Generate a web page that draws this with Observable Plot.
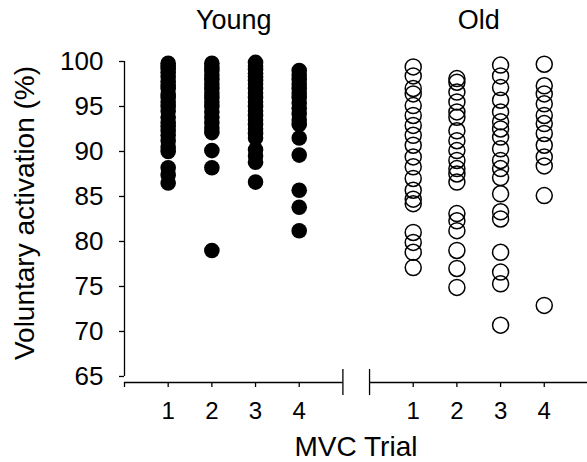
<!DOCTYPE html>
<html>
<head>
<meta charset="utf-8">
<script src="https://cdn.jsdelivr.net/npm/d3@7"></script>
<script src="https://cdn.jsdelivr.net/npm/@observablehq/plot@0.6"></script>
<style>
  html, body { margin: 0; padding: 0; background: #fff; }
</style>
</head>
<body>
<div id="chart"></div>
<script>
// ---- data ----
const groups = ["Young", "Old"];
const trials = [1, 2, 3, 4];
const trialLabels = ["1", "2", "3", "4"];
const yTicks = [65, 70, 75, 80, 85, 90, 95, 100];
const xTitle = "MVC Trial";
const yTitle = "Voluntary activation (%)";

const youngTrial1 = [99.8, 99.5, 99.2, 98.8, 98.3, 97.8, 97.4, 97.0, 96.4, 96.0, 95.5, 95.0, 94.5, 93.8, 93.2, 92.8, 92.3, 91.8, 91.2, 90.5, 90.0, 88.2, 87.4, 86.5];
const youngTrial2 = [99.8, 99.4, 99.0, 98.5, 98.0, 97.5, 97.0, 96.5, 96.0, 95.5, 95.0, 94.4, 93.8, 93.2, 92.6, 92.1, 90.1, 88.2, 79.0];
const youngTrial3 = [99.9, 99.5, 99.1, 98.7, 98.3, 97.9, 97.5, 97.0, 96.5, 96.0, 95.5, 95.0, 94.5, 94.0, 93.5, 93.0, 92.5, 92.0, 91.5, 90.2, 89.5, 88.8, 86.6];
const youngTrial4 = [99.0, 98.5, 98.0, 97.5, 97.0, 96.5, 96.0, 95.4, 94.8, 94.2, 93.5, 93.0, 91.5, 89.6, 85.7, 83.8, 81.2];

const oldTrial1 = [99.4, 98.4, 97.0, 96.4, 95.1, 94.0, 92.9, 91.8, 90.7, 89.4, 88.3, 87.0, 85.7, 84.7, 84.2, 81.0, 79.9, 78.8, 77.1];
const oldTrial2 = [98.1, 97.7, 96.6, 95.5, 94.4, 93.8, 92.3, 91.2, 90.1, 89.0, 88.1, 87.5, 86.6, 83.1, 82.3, 81.2, 79.0, 77.0, 74.9];
const oldTrial3 = [99.6, 98.4, 97.1, 95.7, 94.4, 93.3, 92.5, 91.6, 90.3, 89.0, 88.1, 87.1, 85.3, 83.3, 82.5, 78.8, 76.6, 75.3, 70.7];
const oldTrial4 = [99.7, 97.3, 96.4, 95.3, 94.0, 93.1, 92.0, 90.7, 89.4, 88.4, 85.1, 72.9];

// ---- layout (broken x axis) ----
const groupOffset = {Young: 0, Old: 5.61};
const breakAt = 5;
const xEnd = 10.6;
const yMin = 64.33;

const series = {
  Young: [youngTrial1, youngTrial2, youngTrial3, youngTrial4],
  Old: [oldTrial1, oldTrial2, oldTrial3, oldTrial4]
};
const rows = [];
for (const g of groups) {
  series[g].forEach((vals, i) => {
    vals.forEach(v => rows.push({group: g, pos: trials[i] + groupOffset[g], value: v}));
  });
}

const tickLabel = new Map();
for (const g of groups) trials.forEach((t, i) => tickLabel.set(t + groupOffset[g], trialLabels[i]));
const xTicks = [0, ...tickLabel.keys()];

const segments = [
  {x1: 0, x2: breakAt},
  {x1: groupOffset.Old, x2: xEnd}
];
const breaks = [breakAt, groupOffset.Old];
const groupCenter = g => d3.mean(trials, t => t + groupOffset[g]);

const chart = Plot.plot({
  width: 587,
  height: 462,
  marginLeft: 124,
  marginRight: 0,
  marginTop: 61,
  marginBottom: 80,
  style: {fontFamily: "'Liberation Sans', Arial, sans-serif", color: "#000", background: "#fff", overflow: "visible"},
  x: {domain: [0, xEnd]},
  y: {domain: [yMin, 100]},
  marks: [
    Plot.ruleX([0], {y1: 65, y2: 100, strokeWidth: 1.3}),
    Plot.axisY({ticks: yTicks, tickSize: 5, tickPadding: 16, fontSize: 26, label: null, strokeWidth: 1.3}),
    Plot.ruleY(segments, {y: () => yMin, x1: "x1", x2: "x2", strokeWidth: 1.3}),
    Plot.ruleX(breaks, {x: d => d, y1: yMin + 1.45, y2: yMin - 1.45, strokeWidth: 1.3}),
    Plot.axisX({ticks: xTicks, tickFormat: d => tickLabel.get(d) ?? "", tickSize: 5, tickPadding: 14, fontSize: 24, label: null, strokeWidth: 1.3}),
    Plot.dot(rows.filter(d => d.group === "Young"), {x: "pos", y: "value", r: 7.8, fill: "#000", stroke: "none"}),
    Plot.dot(rows.filter(d => d.group === "Old"), {x: "pos", y: "value", r: 8, fill: "none", stroke: "#000", strokeWidth: 1.5}),
    Plot.text(groups, {x: groupCenter, text: d => d, frameAnchor: "top", lineAnchor: "middle", dy: -41, fontSize: 27}),
    Plot.text([xTitle], {text: d => d, frameAnchor: "bottom", textAnchor: "middle", lineAnchor: "middle", dy: 65, fontSize: 28}),
    Plot.text([yTitle], {text: d => d, frameAnchor: "left", textAnchor: "middle", lineAnchor: "middle", rotate: -90, dx: -99, dy: -9, fontSize: 28})
  ]
});
document.getElementById("chart").appendChild(chart);
</script>
</body>
</html>
